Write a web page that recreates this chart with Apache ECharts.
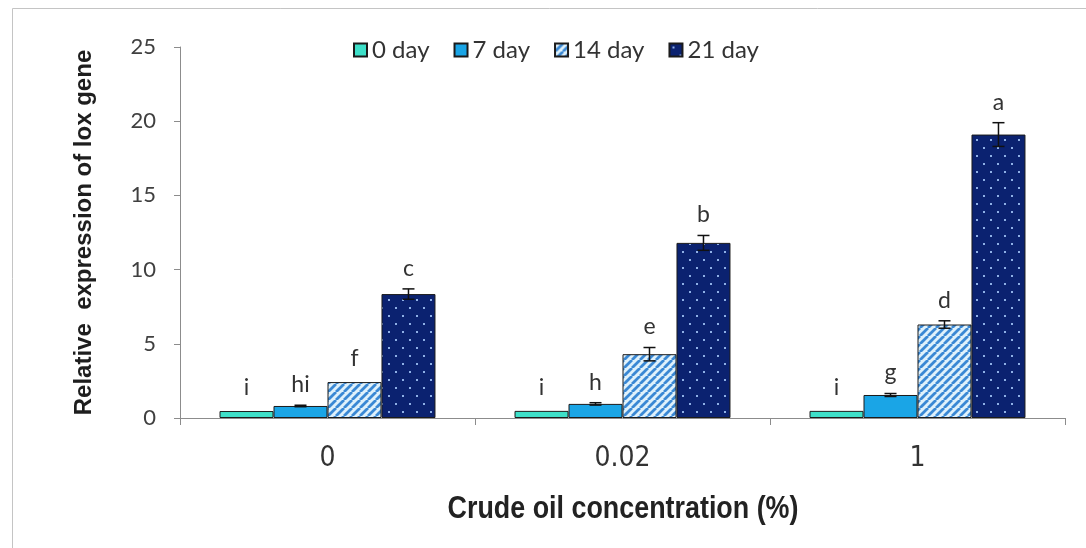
<!DOCTYPE html>
<html>
<head>
<meta charset="utf-8">
<script src="https://cdn.jsdelivr.net/npm/echarts@6/dist/echarts.min.js"></script>
<style>
  html, body { margin: 0; padding: 0; background: #ffffff; }
  #chart { width: 1086px; height: 548px; }
</style>
</head>
<body>
<div id="chart"></div>
<script>
// Crude oil concentration groups
const categories = ['0', '0.02', '1'];
const seriesNames = ['0 day', '7 day', '14 day', '21 day'];

// Mean relative expression of lox gene per sampling day
const day0 = [0.47, 0.48, 0.48];
const day7 = [0.81, 0.95, 1.55];
const day14 = [2.42, 4.3, 6.3];
const day21 = [8.35, 11.8, 19.1];

// Standard error per bar
const err0 = [0, 0, 0];
const err7 = [0.05, 0.08, 0.1];
const err14 = [0, 0.45, 0.25];
const err21 = [0.35, 0.5, 0.8];

// Significance letters
const letters0 = ['i', 'i', 'i'];
const letters7 = ['hi', 'h', 'g'];
const letters14 = ['f', 'e', 'd'];
const letters21 = ['c', 'b', 'a'];

// Y axis ticks
const yMin = 0, yMax = 25, yStep = 5;

const xTitle = 'Crude oil concentration (%)';
const yTitle = 'Relative  expression of lox gene';

const values = [day0, day7, day14, day21];
const errors = [err0, err7, err14, err21];
const letters = [letters0, letters7, letters14, letters21];

// Fill patterns
function stripePattern() {
  const s = 8;
  const c = document.createElement('canvas');
  c.width = s; c.height = s;
  const g = c.getContext('2d');
  g.fillStyle = '#dff1fb';
  g.fillRect(0, 0, s, s);
  g.strokeStyle = '#3a88d4';
  g.lineWidth = 2.8;
  g.beginPath();
  for (let k = -1; k <= 1; k++) {
    g.moveTo(k * s, s);
    g.lineTo(k * s + s, 0);
  }
  g.stroke();
  return { image: c, repeat: 'repeat' };
}

function dotPattern() {
  const w = 14, h = 16;
  const c = document.createElement('canvas');
  c.width = w; c.height = h;
  const g = c.getContext('2d');
  g.fillStyle = '#0b2270';
  g.fillRect(0, 0, w, h);
  g.fillStyle = '#8fb0e6';
  g.fillRect(3, 3, 2, 2);
  g.fillRect(10, 11, 2, 2);
  return { image: c, repeat: 'repeat' };
}

const fills = ['#3ee0c9', '#1aa5e6', stripePattern(), dotPattern()];
const barWidthPct = 0.183;

const barSeries = seriesNames.map((name, i) => ({
  name: name,
  type: 'bar',
  data: values[i],
  barWidth: (barWidthPct * 100) + '%',
  barGap: '0%',
  itemStyle: { color: fills[i], borderColor: '#1b1b1b', borderWidth: 1 },
  emphasis: { disabled: true },
  z: 2
}));

// Error bars and letters drawn on top of each bar
const errData = [];
values.forEach((vals, s) => {
  vals.forEach((v, c) => errData.push([c, v, errors[s][c], s, letters[s][c]]));
});

const errSeries = {
  type: 'custom',
  data: errData,
  z: 5,
  silent: true,
  encode: { x: 0, y: 1 },
  renderItem: function (params, api) {
    const c = api.value(0), v = api.value(1), e = api.value(2), s = api.value(3);
    const band = api.size([1, 0])[0];
    const bw = band * barWidthPct;
    const base = api.coord([c, v]);
    const x = base[0] + (s - 1.5) * bw;
    const yTop = api.coord([c, v + e])[1];
    const yBot = api.coord([c, v - e])[1];
    const cap = 6;
    const children = [];
    if (e > 0) {
      const st = { stroke: '#111111', lineWidth: 1.5 };
      children.push({ type: 'line', shape: { x1: x, y1: yTop, x2: x, y2: yBot }, style: st });
      children.push({ type: 'line', shape: { x1: x - cap, y1: yTop, x2: x + cap, y2: yTop }, style: st });
      children.push({ type: 'line', shape: { x1: x - cap, y1: yBot, x2: x + cap, y2: yBot }, style: st });
    }
    children.push({
      type: 'text',
      style: {
        x: x, y: yTop - (e > 0 ? 9 : 12),
        text: errData[params.dataIndex][4],
        fill: '#333333',
        font: '23px Lato, "Open Sans", sans-serif',
        textAlign: 'center',
        textVerticalAlign: 'bottom'
      }
    });
    return { type: 'group', children: children };
  }
};

const chart = echarts.init(document.getElementById('chart'), null, { renderer: 'canvas' });
chart.setOption({
  animation: false,
  backgroundColor: '#ffffff',
  graphic: [{
    type: 'polyline',
    shape: { points: [[12.5, 548], [12.5, 8.5], [1086, 8.5]] },
    style: { stroke: '#c4c4c4', lineWidth: 1, fill: null },
    silent: true
  }, {
    // condensed bold x-axis title
    type: 'text',
    x: 623, y: 509,
    scaleX: 0.84,
    silent: true,
    style: {
      text: xTitle,
      font: 'bold 32px "Liberation Sans", Arial, sans-serif',
      fill: '#222222',
      textAlign: 'center',
      textVerticalAlign: 'middle'
    }
  }],
  legend: {
    data: seriesNames,
    left: 348,
    top: 33,
    itemWidth: 13,
    itemHeight: 13,
    itemGap: 24,
    icon: 'rect',
    textStyle: { fontFamily: 'Lato, "Open Sans", sans-serif', fontSize: 24, color: '#333333' }
  },
  grid: { left: 180, right: 21, top: 47, bottom: 130 },
  xAxis: {
    type: 'category',
    data: categories,
    axisLine: { lineStyle: { color: '#8c8c8c', width: 1 } },
    axisTick: { show: true, length: 7, lineStyle: { color: '#8c8c8c' } },
    axisLabel: {
      margin: 27,
      fontFamily: '"DejaVu Sans Condensed", "Liberation Sans", sans-serif',
      fontSize: 28, color: '#333333'
    }
  },
  yAxis: {
    type: 'value',
    min: yMin, max: yMax, interval: yStep,
    name: yTitle,
    nameLocation: 'middle',
    nameGap: 84,
    nameTextStyle: { fontFamily: '"Liberation Sans", Arial, sans-serif', fontWeight: 'bold', fontSize: 24, color: '#1e1e1e' },
    axisLine: { show: true, lineStyle: { color: '#8c8c8c', width: 1 } },
    axisTick: { show: true, length: 6, lineStyle: { color: '#8c8c8c' } },
    splitLine: { show: false },
    axisLabel: { margin: 24, fontFamily: 'Lato, "Open Sans", sans-serif', fontSize: 22, color: '#404040' }
  },
  series: barSeries.concat([errSeries])
});
</script>
</body>
</html>
